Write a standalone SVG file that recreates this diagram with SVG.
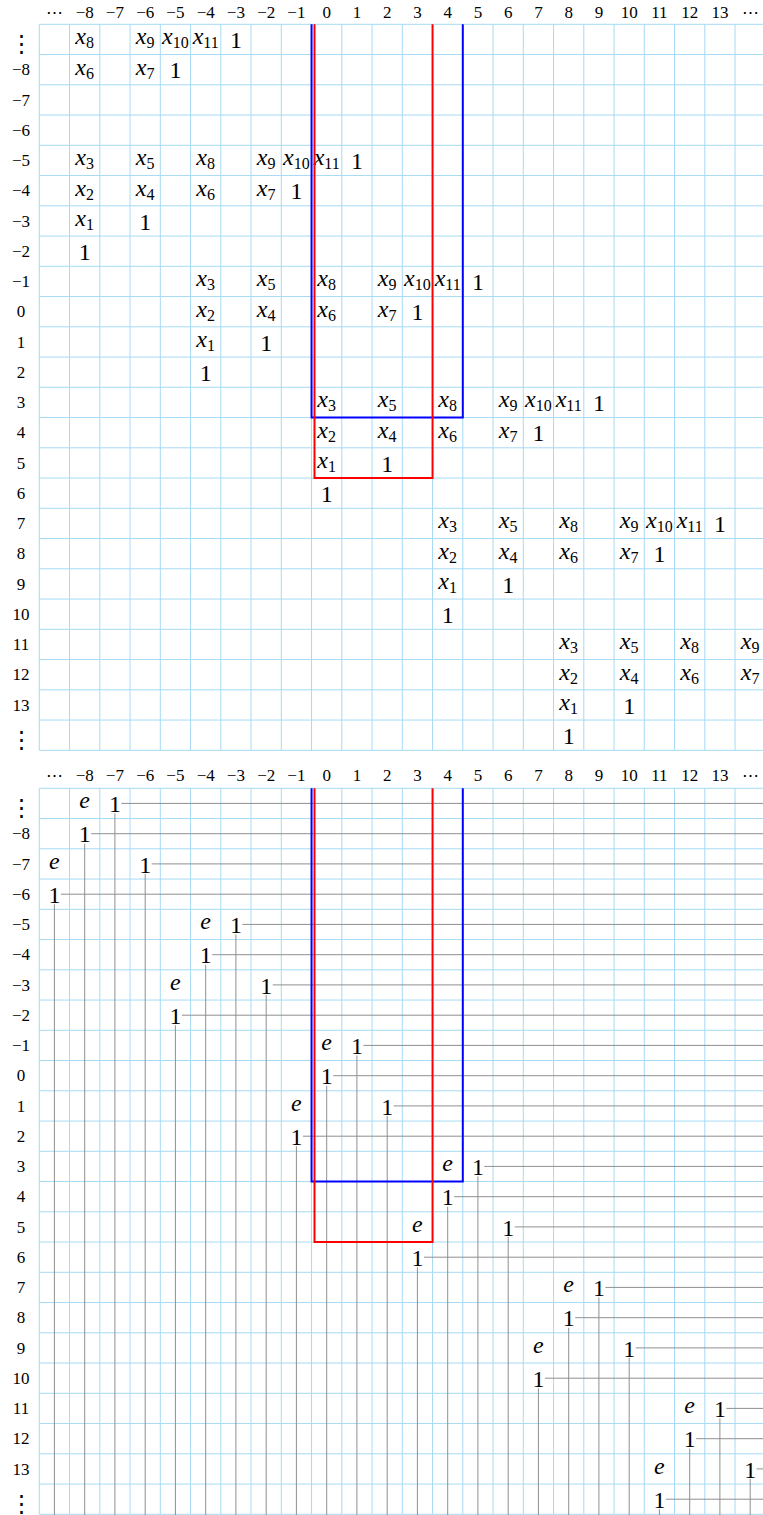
<svg xmlns="http://www.w3.org/2000/svg" width="763" height="1515" viewBox="0 0 763 1515">
<style>
.grid{fill:none;stroke:#a6daf5;stroke-width:1}
.lab{font-family:"Liberation Serif",serif;font-size:17px;text-anchor:middle;fill:#000}
.dots{font-family:"DejaVu Serif",serif;text-anchor:middle;fill:#000}
.hd{font-size:17px}
.vd{font-size:23px}
.cell{font-family:"Liberation Serif",serif;font-size:24px;text-anchor:middle;fill:#000}
.it{font-style:italic}
.sub{font-size:16px;font-style:normal}
.conn{fill:none;stroke:#8f8f8f;stroke-width:1}
.red{fill:none;stroke:#f00;stroke-width:2}
.blue{fill:none;stroke:#00f;stroke-width:2}
</style>
<defs>
<path id="gridlines" class="grid" d="M39.3 24.3V750.3M69.55 24.3V750.3M99.8 24.3V750.3M130.05 24.3V750.3M160.3 24.3V750.3M190.55 24.3V750.3M220.8 24.3V750.3M251.05 24.3V750.3M281.3 24.3V750.3M311.55 24.3V750.3M341.8 24.3V750.3M372.05 24.3V750.3M402.3 24.3V750.3M432.55 24.3V750.3M462.8 24.3V750.3M493.05 24.3V750.3M523.3 24.3V750.3M553.55 24.3V750.3M583.8 24.3V750.3M614.05 24.3V750.3M644.3 24.3V750.3M674.55 24.3V750.3M704.8 24.3V750.3M735.05 24.3V750.3M39.3 24.3H765M39.3 54.55H765M39.3 84.8H765M39.3 115.05H765M39.3 145.3H765M39.3 175.55H765M39.3 205.8H765M39.3 236.05H765M39.3 266.3H765M39.3 296.55H765M39.3 326.8H765M39.3 357.05H765M39.3 387.3H765M39.3 417.55H765M39.3 447.8H765M39.3 478.05H765M39.3 508.3H765M39.3 538.55H765M39.3 568.8H765M39.3 599.05H765M39.3 629.3H765M39.3 659.55H765M39.3 689.8H765M39.3 720.05H765M39.3 750.3H765"/>
<path id="blueframe" class="blue" d="M311.55 24.3V417.55H462.8V24.3"/>
<path id="redframe" class="red" d="M314.5 24.3V478.05H432.55V24.3"/>
</defs>
<rect width="763" height="1515" fill="#fff"/>

<g id="grid-top"><use href="#gridlines"/></g>
<g id="grid-bottom"><use href="#gridlines" y="764"/></g>

<g id="col-labels-top" class="lab">
<text class="dots hd" x="54.4" y="17.5">⋯</text>
<text x="84.7" y="17.5">−8</text><text x="114.9" y="17.5">−7</text><text x="145.2" y="17.5">−6</text><text x="175.4" y="17.5">−5</text><text x="205.7" y="17.5">−4</text><text x="235.9" y="17.5">−3</text><text x="266.2" y="17.5">−2</text><text x="296.4" y="17.5">−1</text><text x="326.7" y="17.5">0</text><text x="356.9" y="17.5">1</text><text x="387.2" y="17.5">2</text><text x="417.4" y="17.5">3</text><text x="447.7" y="17.5">4</text><text x="477.9" y="17.5">5</text><text x="508.2" y="17.5">6</text><text x="538.4" y="17.5">7</text><text x="568.7" y="17.5">8</text><text x="598.9" y="17.5">9</text><text x="629.2" y="17.5">10</text><text x="659.4" y="17.5">11</text><text x="689.7" y="17.5">12</text><text x="719.9" y="17.5">13</text>
<text class="dots hd" x="750.2" y="17.5">⋯</text>
</g>
<g id="row-labels-top" class="lab">
<text class="dots vd" x="21" y="51">⋮</text>
<text x="21" y="75.4">−8</text><text x="21" y="105.6">−7</text><text x="21" y="135.9">−6</text><text x="21" y="166.1">−5</text><text x="21" y="196.4">−4</text><text x="21" y="226.6">−3</text><text x="21" y="256.9">−2</text><text x="21" y="287.1">−1</text><text x="21" y="317.4">0</text><text x="21" y="347.6">1</text><text x="21" y="377.9">2</text><text x="21" y="408.1">3</text><text x="21" y="438.4">4</text><text x="21" y="468.6">5</text><text x="21" y="498.9">6</text><text x="21" y="529.1">7</text><text x="21" y="559.4">8</text><text x="21" y="589.6">9</text><text x="21" y="619.9">10</text><text x="21" y="650.1">11</text><text x="21" y="680.4">12</text><text x="21" y="710.6">13</text>
<text class="dots vd" x="21" y="746.8">⋮</text>
</g>

<g id="col-labels-bottom" class="lab">
<text class="dots hd" x="54.4" y="781">⋯</text>
<text x="84.7" y="781">−8</text><text x="114.9" y="781">−7</text><text x="145.2" y="781">−6</text><text x="175.4" y="781">−5</text><text x="205.7" y="781">−4</text><text x="235.9" y="781">−3</text><text x="266.2" y="781">−2</text><text x="296.4" y="781">−1</text><text x="326.7" y="781">0</text><text x="356.9" y="781">1</text><text x="387.2" y="781">2</text><text x="417.4" y="781">3</text><text x="447.7" y="781">4</text><text x="477.9" y="781">5</text><text x="508.2" y="781">6</text><text x="538.4" y="781">7</text><text x="568.7" y="781">8</text><text x="598.9" y="781">9</text><text x="629.2" y="781">10</text><text x="659.4" y="781">11</text><text x="689.7" y="781">12</text><text x="719.9" y="781">13</text>
<text class="dots hd" x="750.2" y="781">⋯</text>
</g>
<g id="row-labels-bottom" class="lab">
<text class="dots vd" x="21" y="815">⋮</text>
<text x="21" y="839.4">−8</text><text x="21" y="869.6">−7</text><text x="21" y="899.9">−6</text><text x="21" y="930.1">−5</text><text x="21" y="960.4">−4</text><text x="21" y="990.6">−3</text><text x="21" y="1020.9">−2</text><text x="21" y="1051.1">−1</text><text x="21" y="1081.4">0</text><text x="21" y="1111.6">1</text><text x="21" y="1141.9">2</text><text x="21" y="1172.1">3</text><text x="21" y="1202.4">4</text><text x="21" y="1232.6">5</text><text x="21" y="1262.9">6</text><text x="21" y="1293.1">7</text><text x="21" y="1323.4">8</text><text x="21" y="1353.6">9</text><text x="21" y="1383.9">10</text><text x="21" y="1414.1">11</text><text x="21" y="1444.4">12</text><text x="21" y="1474.6">13</text>
<text class="dots vd" x="21" y="1510.8">⋮</text>
</g>

<!-- top grid cells -->
<g id="block-top-0" class="cell">
<text x="84.7" y="44.4"><tspan class="it">x</tspan><tspan class="sub" dy="4">8</tspan></text>
<text x="145.2" y="44.4"><tspan class="it">x</tspan><tspan class="sub" dy="4">9</tspan></text>
<text x="175.4" y="44.4"><tspan class="it">x</tspan><tspan class="sub" dy="4">10</tspan></text>
<text x="205.7" y="44.4"><tspan class="it">x</tspan><tspan class="sub" dy="4">11</tspan></text>
<text x="235.9" y="48.1">1</text>
<text x="84.7" y="74.7"><tspan class="it">x</tspan><tspan class="sub" dy="4">6</tspan></text>
<text x="145.2" y="74.7"><tspan class="it">x</tspan><tspan class="sub" dy="4">7</tspan></text>
<text x="175.4" y="78.4">1</text>
</g>
<g id="block-top-1" class="cell">
<text x="84.7" y="165.4"><tspan class="it">x</tspan><tspan class="sub" dy="4">3</tspan></text>
<text x="145.2" y="165.4"><tspan class="it">x</tspan><tspan class="sub" dy="4">5</tspan></text>
<text x="205.7" y="165.4"><tspan class="it">x</tspan><tspan class="sub" dy="4">8</tspan></text>
<text x="266.2" y="165.4"><tspan class="it">x</tspan><tspan class="sub" dy="4">9</tspan></text>
<text x="296.4" y="165.4"><tspan class="it">x</tspan><tspan class="sub" dy="4">10</tspan></text>
<text x="326.7" y="165.4"><tspan class="it">x</tspan><tspan class="sub" dy="4">11</tspan></text>
<text x="356.9" y="169.1">1</text>
<text x="84.7" y="195.7"><tspan class="it">x</tspan><tspan class="sub" dy="4">2</tspan></text>
<text x="145.2" y="195.7"><tspan class="it">x</tspan><tspan class="sub" dy="4">4</tspan></text>
<text x="205.7" y="195.7"><tspan class="it">x</tspan><tspan class="sub" dy="4">6</tspan></text>
<text x="266.2" y="195.7"><tspan class="it">x</tspan><tspan class="sub" dy="4">7</tspan></text>
<text x="296.4" y="199.4">1</text>
<text x="84.7" y="225.9"><tspan class="it">x</tspan><tspan class="sub" dy="4">1</tspan></text>
<text x="145.2" y="229.6">1</text>
<text x="84.7" y="259.9">1</text>
</g>
<g id="block-top-2" class="cell">
<text x="205.7" y="286.4"><tspan class="it">x</tspan><tspan class="sub" dy="4">3</tspan></text>
<text x="266.2" y="286.4"><tspan class="it">x</tspan><tspan class="sub" dy="4">5</tspan></text>
<text x="326.7" y="286.4"><tspan class="it">x</tspan><tspan class="sub" dy="4">8</tspan></text>
<text x="387.2" y="286.4"><tspan class="it">x</tspan><tspan class="sub" dy="4">9</tspan></text>
<text x="417.4" y="286.4"><tspan class="it">x</tspan><tspan class="sub" dy="4">10</tspan></text>
<text x="447.7" y="286.4"><tspan class="it">x</tspan><tspan class="sub" dy="4">11</tspan></text>
<text x="477.9" y="290.1">1</text>
<text x="205.7" y="316.7"><tspan class="it">x</tspan><tspan class="sub" dy="4">2</tspan></text>
<text x="266.2" y="316.7"><tspan class="it">x</tspan><tspan class="sub" dy="4">4</tspan></text>
<text x="326.7" y="316.7"><tspan class="it">x</tspan><tspan class="sub" dy="4">6</tspan></text>
<text x="387.2" y="316.7"><tspan class="it">x</tspan><tspan class="sub" dy="4">7</tspan></text>
<text x="417.4" y="320.4">1</text>
<text x="205.7" y="346.9"><tspan class="it">x</tspan><tspan class="sub" dy="4">1</tspan></text>
<text x="266.2" y="350.6">1</text>
<text x="205.7" y="380.9">1</text>
</g>
<g id="block-top-3" class="cell">
<text x="326.7" y="407.4"><tspan class="it">x</tspan><tspan class="sub" dy="4">3</tspan></text>
<text x="387.2" y="407.4"><tspan class="it">x</tspan><tspan class="sub" dy="4">5</tspan></text>
<text x="447.7" y="407.4"><tspan class="it">x</tspan><tspan class="sub" dy="4">8</tspan></text>
<text x="508.2" y="407.4"><tspan class="it">x</tspan><tspan class="sub" dy="4">9</tspan></text>
<text x="538.4" y="407.4"><tspan class="it">x</tspan><tspan class="sub" dy="4">10</tspan></text>
<text x="568.7" y="407.4"><tspan class="it">x</tspan><tspan class="sub" dy="4">11</tspan></text>
<text x="598.9" y="411.1">1</text>
<text x="326.7" y="437.7"><tspan class="it">x</tspan><tspan class="sub" dy="4">2</tspan></text>
<text x="387.2" y="437.7"><tspan class="it">x</tspan><tspan class="sub" dy="4">4</tspan></text>
<text x="447.7" y="437.7"><tspan class="it">x</tspan><tspan class="sub" dy="4">6</tspan></text>
<text x="508.2" y="437.7"><tspan class="it">x</tspan><tspan class="sub" dy="4">7</tspan></text>
<text x="538.4" y="441.4">1</text>
<text x="326.7" y="467.9"><tspan class="it">x</tspan><tspan class="sub" dy="4">1</tspan></text>
<text x="387.2" y="471.6">1</text>
<text x="326.7" y="501.9">1</text>
</g>
<g id="block-top-4" class="cell">
<text x="447.7" y="528.4"><tspan class="it">x</tspan><tspan class="sub" dy="4">3</tspan></text>
<text x="508.2" y="528.4"><tspan class="it">x</tspan><tspan class="sub" dy="4">5</tspan></text>
<text x="568.7" y="528.4"><tspan class="it">x</tspan><tspan class="sub" dy="4">8</tspan></text>
<text x="629.2" y="528.4"><tspan class="it">x</tspan><tspan class="sub" dy="4">9</tspan></text>
<text x="659.4" y="528.4"><tspan class="it">x</tspan><tspan class="sub" dy="4">10</tspan></text>
<text x="689.7" y="528.4"><tspan class="it">x</tspan><tspan class="sub" dy="4">11</tspan></text>
<text x="719.9" y="532.1">1</text>
<text x="447.7" y="558.7"><tspan class="it">x</tspan><tspan class="sub" dy="4">2</tspan></text>
<text x="508.2" y="558.7"><tspan class="it">x</tspan><tspan class="sub" dy="4">4</tspan></text>
<text x="568.7" y="558.7"><tspan class="it">x</tspan><tspan class="sub" dy="4">6</tspan></text>
<text x="629.2" y="558.7"><tspan class="it">x</tspan><tspan class="sub" dy="4">7</tspan></text>
<text x="659.4" y="562.4">1</text>
<text x="447.7" y="588.9"><tspan class="it">x</tspan><tspan class="sub" dy="4">1</tspan></text>
<text x="508.2" y="592.6">1</text>
<text x="447.7" y="622.9">1</text>
</g>
<g id="block-top-5" class="cell">
<text x="568.7" y="649.4"><tspan class="it">x</tspan><tspan class="sub" dy="4">3</tspan></text>
<text x="629.2" y="649.4"><tspan class="it">x</tspan><tspan class="sub" dy="4">5</tspan></text>
<text x="689.7" y="649.4"><tspan class="it">x</tspan><tspan class="sub" dy="4">8</tspan></text>
<text x="750.2" y="649.4"><tspan class="it">x</tspan><tspan class="sub" dy="4">9</tspan></text>
<text x="568.7" y="679.7"><tspan class="it">x</tspan><tspan class="sub" dy="4">2</tspan></text>
<text x="629.2" y="679.7"><tspan class="it">x</tspan><tspan class="sub" dy="4">4</tspan></text>
<text x="689.7" y="679.7"><tspan class="it">x</tspan><tspan class="sub" dy="4">6</tspan></text>
<text x="750.2" y="679.7"><tspan class="it">x</tspan><tspan class="sub" dy="4">7</tspan></text>
<text x="568.7" y="709.9"><tspan class="it">x</tspan><tspan class="sub" dy="4">1</tspan></text>
<text x="629.2" y="713.6">1</text>
<text x="568.7" y="743.9">1</text>
</g>

<g id="frames-top"><use href="#blueframe"/><use href="#redframe"/></g>

<!-- bottom grid connectors -->
<g id="connectors" class="conn">
<path d="M121.4 803.4H763M114.9 813.4V1515"/>
<path d="M91.2 833.7H763M84.7 843.7V1515"/>
<path d="M151.7 863.9H763M145.2 873.9V1515"/>
<path d="M60.9 894.2H763M54.4 904.2V1515"/>
<path d="M242.4 924.4H763M235.9 934.4V1515"/>
<path d="M212.2 954.7H763M205.7 964.7V1515"/>
<path d="M272.7 984.9H763M266.2 994.9V1515"/>
<path d="M181.9 1015.2H763M175.4 1025.2V1515"/>
<path d="M363.4 1045.4H763M356.9 1055.4V1515"/>
<path d="M333.2 1075.7H763M326.7 1085.7V1515"/>
<path d="M393.7 1105.9H763M387.2 1115.9V1515"/>
<path d="M302.9 1136.2H763M296.4 1146.2V1515"/>
<path d="M484.4 1166.4H763M477.9 1176.4V1515"/>
<path d="M454.2 1196.7H763M447.7 1206.7V1515"/>
<path d="M514.7 1226.9H763M508.2 1236.9V1515"/>
<path d="M423.9 1257.2H763M417.4 1267.2V1515"/>
<path d="M605.4 1287.4H763M598.9 1297.4V1515"/>
<path d="M575.2 1317.7H763M568.7 1327.7V1515"/>
<path d="M635.7 1347.9H763M629.2 1357.9V1515"/>
<path d="M544.9 1378.2H763M538.4 1388.2V1515"/>
<path d="M726.4 1408.4H763M719.9 1418.4V1515"/>
<path d="M696.2 1438.7H763M689.7 1448.7V1515"/>
<path d="M756.7 1468.9H763M750.2 1478.9V1515"/>
<path d="M665.9 1499.2H763M659.4 1509.2V1515"/>
</g>

<g id="frames-bottom"><use href="#blueframe" y="764"/><use href="#redframe" y="764"/></g>

<!-- bottom grid nodes -->
<g id="pair-0" class="cell">
<text class="it" x="84.7" y="808.4">e</text>
<text x="114.9" y="812.1">1</text>
<text x="84.7" y="842.4">1</text>
<text class="it" x="54.4" y="868.9">e</text>
<text x="145.2" y="872.6">1</text>
<text x="54.4" y="902.9">1</text>
</g>
<g id="pair-1" class="cell">
<text class="it" x="205.7" y="929.4">e</text>
<text x="235.9" y="933.1">1</text>
<text x="205.7" y="963.4">1</text>
<text class="it" x="175.4" y="989.9">e</text>
<text x="266.2" y="993.6">1</text>
<text x="175.4" y="1023.9">1</text>
</g>
<g id="pair-2" class="cell">
<text class="it" x="326.7" y="1050.4">e</text>
<text x="356.9" y="1054.1">1</text>
<text x="326.7" y="1084.4">1</text>
<text class="it" x="296.4" y="1110.9">e</text>
<text x="387.2" y="1114.6">1</text>
<text x="296.4" y="1144.9">1</text>
</g>
<g id="pair-3" class="cell">
<text class="it" x="447.7" y="1171.4">e</text>
<text x="477.9" y="1175.1">1</text>
<text x="447.7" y="1205.4">1</text>
<text class="it" x="417.4" y="1231.9">e</text>
<text x="508.2" y="1235.6">1</text>
<text x="417.4" y="1265.9">1</text>
</g>
<g id="pair-4" class="cell">
<text class="it" x="568.7" y="1292.4">e</text>
<text x="598.9" y="1296.1">1</text>
<text x="568.7" y="1326.4">1</text>
<text class="it" x="538.4" y="1352.9">e</text>
<text x="629.2" y="1356.6">1</text>
<text x="538.4" y="1386.9">1</text>
</g>
<g id="pair-5" class="cell">
<text class="it" x="689.7" y="1413.4">e</text>
<text x="719.9" y="1417.1">1</text>
<text x="689.7" y="1447.4">1</text>
<text class="it" x="659.4" y="1473.9">e</text>
<text x="750.2" y="1477.6">1</text>
<text x="659.4" y="1507.9">1</text>
</g>
</svg>
